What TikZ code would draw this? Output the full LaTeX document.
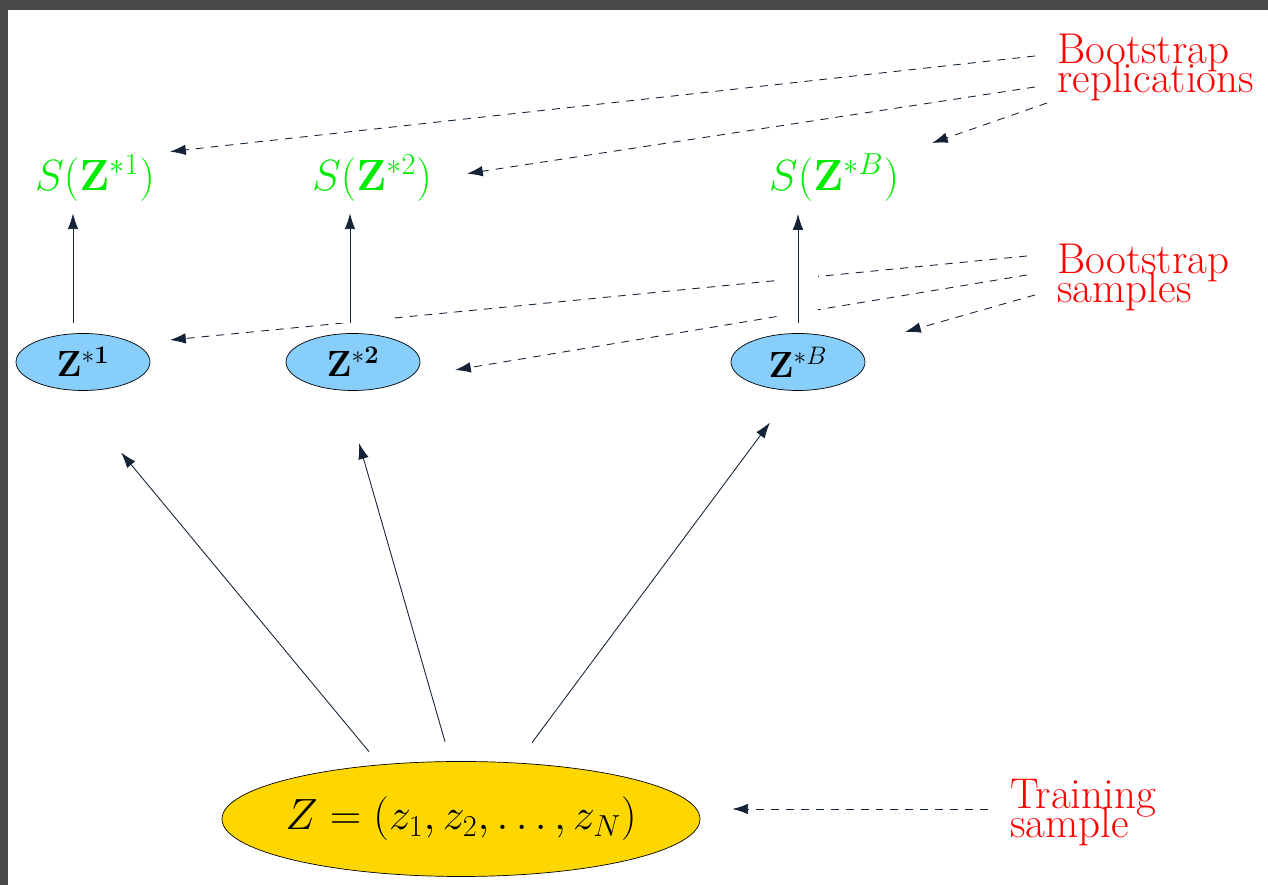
\documentclass[tikz,border=0pt]{standalone}
\usetikzlibrary{shapes.geometric,arrows.meta}
\definecolor{lightblue}{RGB}{135,206,250}
\definecolor{golden}{RGB}{255,215,0}
\definecolor{brightgreen}{RGB}{0,235,0}
\definecolor{framegray}{RGB}{74,74,74}
\definecolor{linecol}{RGB}{20,35,55}
\setlength{\lineskiplimit}{-30pt}
\begin{document}
\begin{tikzpicture}[scale=1,
  >={Latex[length=9pt,width=6pt]},
  every node/.style={font=\fontsize{24.5}{16.5}\selectfont},
  stat/.style={text=brightgreen},
  bootnode/.style={ellipse,draw,fill=lightblue,minimum width=2.68cm,minimum height=1.14cm,inner sep=0pt,font=\fontsize{21}{25}\selectfont},
  datanode/.style={ellipse,draw,fill=golden,minimum width=9.56cm,minimum height=2.3cm,inner ysep=0pt,inner xsep=-0.14cm},
  remark/.style={text=red,align=left,anchor=west,inner sep=0pt},
  arr/.style={->,draw=linecol,line width=0.5pt},
  dasharr/.style={->,draw=linecol,line width=0.5pt,dash pattern=on 4.5pt off 4pt},
  cutout/.style={preaction={draw=white,line width=#1,-}}]

\useasboundingbox (0,0) rectangle (25.36,17.70);
\fill[framegray] (0,0) rectangle (0.16,17.70);
\fill[framegray] (0,17.50) rectangle (25.36,17.70);

\node[stat] (s1) at (1.90,14.14) {$S(\mathbf{Z}^{*1})$};
\node[stat] (s2) at (7.44,14.14) {$S(\mathbf{Z}^{*2})$};
\node[stat] (sB) at (16.68,14.14) {$S(\mathbf{Z}^{*B})$};

\node[bootnode] (z1) at (1.66,10.46) {$\mathbf{Z}^{*\mathbf{1}}$};
\node[bootnode] (z2) at (7.06,10.46) {$\mathbf{Z}^{*\mathbf{2}}$};
\node[bootnode] (zB) at (15.96,10.46) {$\mathbf{Z}^{*B}$};

\node[datanode] (z) at (9.22,1.32) {$Z=(z_1,z_2,\ldots,z_N)$};

\node[remark] (rep) at (21.14,16.34) {Bootstrap\\replications};
\node[remark] (samp) at (21.14,12.14) {Bootstrap\\samples};
\node[remark] (trn) at (20.20,1.44) {Training\\sample};

\draw[dasharr] ([shift={(-0.44,0.24)}]rep.west) -- ([shift={(1.50,-0.06)}]s1.north);
\draw[dasharr] ([shift={(-0.44,-0.38)}]rep.west) -- ([shift={(1.90,-0.50)}]s2.north);
\draw[dasharr] ([shift={(-0.20,-0.70)}]rep.west) -- ([shift={(1.96,0.10)}]sB.north);

\draw[dasharr] ([shift={(-0.60,0.44)}]samp.west) -- ([shift={(1.74,0.44)}]z1.center);
\draw[dasharr] ([shift={(-0.60,0.06)}]samp.west) -- ([shift={(2.04,-0.16)}]z2.center);
\draw[dasharr] ([shift={(-0.44,-0.34)}]samp.west) -- ([shift={(2.14,0.60)}]zB.center);

\draw[dasharr] ([shift={(-0.44,0.08)}]trn.west) -- ([shift={(0.64,0.20)}]z.east);

\draw[arr,shorten <=0.21cm,shorten >=0.12cm] ([xshift=-0.2cm]z1.north) -- ([xshift=-0.2cm]z1.north |- s1.south);
\draw[arr,cutout=1.5cm,shorten <=0.21cm,shorten >=0.12cm] ([xshift=-0.06cm]z2.north) -- ([xshift=-0.06cm]z2.north |- s2.south);
\draw[arr,cutout=0.8cm,shorten <=0.21cm,shorten >=0.12cm] (zB.north) -- (zB.north |- sB.south);

\draw[arr,shorten >=1.6cm] ([shift={(-1.84,0.19)}]z.north) -- ([xshift=-0.26cm]z1.south);
\draw[arr,shorten >=1.09cm] ([shift={(-0.32,0.39)}]z.north) -- ([xshift=-0.18cm]z2.south);
\draw[arr,shorten >=0.79cm] ([shift={(1.42,0.37)}]z.north) -- ([xshift=-0.09cm]zB.south);

\end{tikzpicture}
\end{document}
